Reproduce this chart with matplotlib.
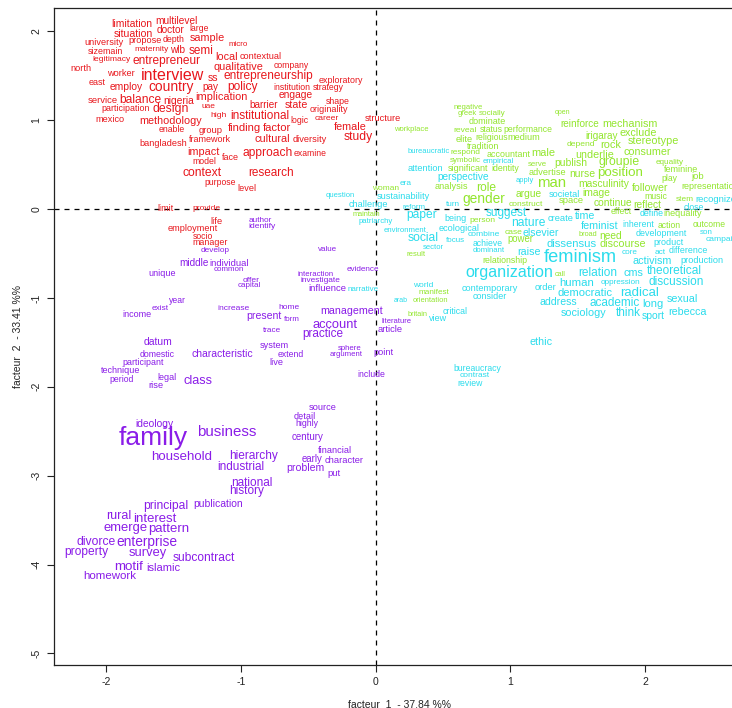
import matplotlib
matplotlib.use("Agg")
import matplotlib.pyplot as plt

plt.rcParams["font.family"] = ["Liberation Sans", "DejaVu Sans"]
plt.rcParams["axes.unicode_minus"] = False

# classe 1 (rouge)
red_words = ["limitation", "multilevel", "situation", "doctor", "large", "university", "propose", "depth",
             "sample", "micro", "sizemain", "maternity", "wlb", "semi", "local", "contextual", "legitimacy",
             "entrepreneur", "qualitative", "company", "north", "worker", "interview", "ss",
             "entrepreneurship", "exploratory", "east", "employ", "country", "pay", "policy", "institution",
             "strategy", "engage", "service", "balance", "nigeria", "implication", "barrier", "state",
             "shape", "participation", "design", "uae", "originality", "mexico", "methodology", "high",
             "institutional", "logic", "career", "structure", "enable", "group", "finding", "factor",
             "female", "framework", "bangladesh", "cultural", "diversity", "study", "impact", "face",
             "approach", "examine", "model", "context", "research", "purpose", "level", "limit", "provide",
             "life", "employment", "socio", "manager"]
red_x = [-1.811, -1.477, -1.800, -1.522, -1.310, -2.019, -1.711, -1.500, -1.251, -1.017, -2.008, -1.663,
         -1.474, -1.299, -1.106, -0.854, -1.960, -1.552, -1.021, -0.627, -2.186, -1.893, -1.511, -1.210,
         -0.794, -0.260, -2.068, -1.852, -1.518, -1.225, -0.987, -0.620, -0.353, -0.594, -2.027, -1.745,
         -1.466, -1.143, -0.828, -0.590, -0.282, -1.856, -1.522, -1.240, -0.349, -1.971, -1.522, -1.169,
         -0.857, -0.564, -0.364, 0.052, -1.514, -1.225, -0.976, -0.735, -0.193, -1.232, -1.578, -0.768,
         -0.490, -0.130, -1.277, -1.080, -0.802, -0.486, -1.269, -1.288, -0.780, -1.154, -0.954, -1.559,
         -1.255, -1.180, -1.359, -1.284, -1.229]
red_y = [2.078, 2.115, 1.969, 2.014, 2.025, 1.871, 1.893, 1.912, 1.924, 1.845, 1.777, 1.789, 1.789, 1.777,
         1.713, 1.713, 1.687, 1.665, 1.601, 1.612, 1.575, 1.519, 1.507, 1.474, 1.496, 1.443, 1.421, 1.376,
         1.376, 1.376, 1.376, 1.365, 1.365, 1.282, 1.215, 1.226, 1.215, 1.264, 1.170, 1.170, 1.207, 1.125,
         1.125, 1.151, 1.114, 1.001, 0.993, 1.057, 1.050, 0.990, 1.020, 1.020, 0.889, 0.881, 0.915, 0.915,
         0.926, 0.784, 0.731, 0.787, 0.787, 0.813, 0.638, 0.582, 0.627, 0.627, 0.532, 0.402, 0.402, 0.299,
         0.233, 0.011, 0.000, -0.143, -0.225, -0.304, -0.379]
red_cex = [1.04, 1.01, 1.05, 1.01, 0.86, 0.92, 0.91, 0.88, 1.09, 0.80, 0.89, 0.83, 1.00, 1.18, 1.07, 0.92,
           0.85, 1.19, 1.09, 0.86, 0.92, 0.93, 1.60, 1.05, 1.19, 0.89, 0.90, 1.02, 1.37, 1.00, 1.20, 0.88,
           0.87, 1.02, 0.95, 1.20, 1.03, 1.10, 1.00, 1.06, 0.88, 0.89, 1.22, 0.84, 0.90, 0.92, 1.08, 0.85,
           1.18, 0.88, 0.85, 0.93, 0.87, 0.94, 1.12, 1.12, 1.07, 0.90, 0.91, 1.09, 0.93, 1.21, 1.09, 0.90,
           1.20, 0.87, 0.88, 1.21, 1.18, 0.86, 0.92, 0.90, 0.85, 0.94, 0.92, 0.86, 0.89]

# classe 2 (violet)
purple_words = ["develop", "author", "identify", "value", "middle", "individual", "common", "unique",
                "evidence", "interaction", "investigate", "offer", "capital", "influence", "year", "exist",
                "income", "increase", "home", "present", "form", "management", "account", "practice",
                "trace", "literature", "article", "datum", "system", "sphere", "argument", "point",
                "domestic", "characteristic", "extend", "live", "participant", "technique", "period",
                "legal", "rise", "class", "include", "source", "detail", "highly", "ideology", "family",
                "business", "century", "household", "hierarchy", "financial", "early", "character",
                "industrial", "problem", "put", "national", "history", "principal", "publication", "rural",
                "interest", "emerge", "pattern", "divorce", "enterprise", "property", "survey",
                "subcontract", "motif", "islamic", "homework"]
purple_x = [-1.192, -0.857, -0.846, -0.360, -1.351, -1.088, -1.091, -1.585, -0.093, -0.449, -0.412, -0.924,
            -0.939, -0.356, -1.474, -1.600, -1.771, -1.054, -0.642, -0.828, -0.624, -0.178, -0.301, -0.390,
            -0.772, 0.156, 0.108, -1.615, -0.754, -0.193, -0.219, 0.059, -1.622, -1.140, -0.631, -0.735,
            -1.726, -1.897, -1.886, -1.548, -1.630, -1.318, -0.030, -0.393, -0.527, -0.509, -1.641, -1.652,
            -1.102, -0.505, -1.437, -0.909, -0.304, -0.471, -0.234, -0.999, -0.520, -0.308, -0.917, -0.961,
            -1.555, -1.169, -1.904, -1.637, -1.856, -1.533, -2.075, -1.696, -2.145, -1.693, -1.277, -1.837,
            -1.574, -1.971]
purple_y = [-0.469, -0.124, -0.199, -0.461, -0.611, -0.611, -0.686, -0.731, -0.686, -0.742, -0.810, -0.799,
            -0.866, -0.900, -1.024, -1.117, -1.192, -1.117, -1.110, -1.204, -1.241, -1.144, -1.305, -1.406,
            -1.372, -1.271, -1.361, -1.500, -1.541, -1.567, -1.642, -1.612, -1.634, -1.634, -1.642, -1.729,
            -1.729, -1.819, -1.916, -1.898, -1.991, -1.935, -1.860, -2.231, -2.329, -2.411, -2.422, -2.579,
            -2.512, -2.568, -2.793, -2.779, -2.722, -2.812, -2.831, -2.906, -2.910, -2.981, -3.079, -3.172,
            -3.341, -3.319, -3.454, -3.491, -3.585, -3.603, -3.743, -3.743, -3.862, -3.866, -3.923, -4.024,
            -4.035, -4.128]
purple_cex = [0.83, 0.81, 0.85, 0.80, 1.00, 0.94, 0.80, 0.90, 0.82, 0.78, 0.83, 0.85, 0.80, 0.95, 0.87,
              0.83, 0.90, 0.85, 0.84, 1.05, 0.80, 1.06, 1.29, 1.17, 0.81, 0.77, 0.94, 1.04, 0.92, 0.78,
              0.78, 0.92, 0.88, 1.04, 0.87, 0.93, 0.89, 0.90, 0.86, 0.90, 0.93, 1.27, 0.88, 0.93, 0.92,
              0.88, 1.02, 2.64, 1.50, 0.98, 1.32, 1.19, 0.93, 0.97, 0.94, 1.18, 1.05, 0.94, 1.17, 1.19,
              1.21, 1.04, 1.25, 1.31, 1.30, 1.32, 1.21, 1.37, 1.20, 1.29, 1.20, 1.34, 1.11, 1.15]

# classe 3 (vert)
green_words = ["negative", "greek", "socially", "dominate", "workplace", "reveal", "status", "performance",
               "elite", "religious", "medium", "tradition", "respond", "accountant", "male", "symbolic",
               "serve", "significant", "identity", "advertise", "woman", "analysis", "role", "man", "argue",
               "gender", "construct", "maintain", "person", "case", "power", "result", "relationship",
               "manifest", "orientation", "britain", "open", "reinforce", "mechanism", "irigaray", "exclude",
               "depend", "rock", "stereotype", "underlie", "consumer", "equality", "publish", "groupie",
               "feminine", "nurse", "position", "play", "job", "masculinity", "follower", "representation",
               "image", "music", "stem", "space", "continue", "reflect", "effect", "inequality", "action",
               "outcome", "broad", "need", "discourse", "call"]
green_x = [0.687, 0.679, 0.865, 0.828, 0.267, 0.664, 0.857, 1.128, 0.657, 0.861, 1.102, 0.794, 0.668, 0.984,
           1.247, 0.664, 1.203, 0.683, 0.965, 1.273, 0.071, 0.561, 0.817, 1.303, 1.136, 0.805, 1.114, -0.067,
           0.794, 1.024, 1.076, 0.301, 0.961, 0.434, 0.405, 0.312, 1.385, 1.518, 1.889, 1.674, 1.949, 1.526,
           1.741, 2.060, 1.626, 2.016, 2.183, 1.451, 1.808, 2.264, 1.537, 1.811, 2.179, 2.387, 1.696, 2.034,
           2.480, 1.641, 2.082, 2.294, 1.451, 1.763, 2.019, 1.823, 2.279, 2.179, 2.476, 1.578, 1.741, 1.837,
           1.366]
green_y = [1.140, 1.069, 1.069, 0.982, 0.889, 0.881, 0.889, 0.889, 0.787, 0.802, 0.802, 0.701, 0.638, 0.615,
           0.634, 0.540, 0.498, 0.450, 0.450, 0.411, 0.233, 0.251, 0.240, 0.289, 0.169, 0.112, 0.053, -0.061,
           -0.124, -0.270, -0.341, -0.517, -0.574, -0.937, -1.024, -1.192, 1.088, 0.953, 0.953, 0.825, 0.852,
           0.728, 0.720, 0.768, 0.607, 0.638, 0.525, 0.514, 0.525, 0.439, 0.394, 0.402, 0.345, 0.363, 0.278,
           0.240, 0.253, 0.177, 0.138, 0.109, 0.093, 0.064, 0.045, -0.030, -0.048, -0.191, -0.172, -0.292,
           -0.300, -0.394, -0.737]
green_cex = [0.77, 0.76, 0.82, 0.90, 0.76, 0.85, 0.86, 0.86, 0.93, 0.86, 0.93, 0.90, 0.83, 0.89, 1.10, 0.80,
             0.78, 0.90, 0.88, 0.91, 0.84, 0.91, 1.20, 1.50, 1.02, 1.38, 0.84, 0.74, 0.85, 0.85, 0.96, 0.78,
             0.88, 0.82, 0.75, 0.74, 0.70, 1.00, 1.08, 1.00, 1.07, 0.85, 1.10, 1.09, 1.07, 1.07, 0.81, 1.04,
             1.23, 0.90, 1.04, 1.34, 0.86, 0.95, 1.03, 1.05, 0.90, 1.03, 0.88, 0.83, 0.94, 1.03, 1.03, 0.86,
             0.90, 0.86, 0.86, 0.74, 1.03, 1.07, 0.73]

# classe 4 (cyan)
cyan_words = ["narrative", "bureaucratic", "empirical", "attention", "perspective", "apply", "era",
              "sustainability", "question", "challenge", "turn", "reform", "suggest", "patriarchy", "paper",
              "being", "environment", "ecological", "nature", "elsevier", "social", "focus", "combine",
              "achieve", "sector", "dominant", "raise", "organization", "world", "contemporary", "order",
              "consider", "arab", "view", "critical", "ethic", "bureaucracy", "contrast", "review",
              "societal", "recognize", "close", "define", "create", "time", "feminist", "inherent",
              "development", "son", "campaign", "dissensus", "product", "feminism", "core", "act",
              "difference", "activism", "production", "relation", "cms", "theoretical", "human",
              "oppression", "discussion", "democratic", "radical", "address", "academic", "long", "sexual",
              "sociology", "think", "sport", "rebecca"]
cyan_x = [-0.093, 0.393, 0.909, 0.367, 0.650, 1.106, 0.223, 0.204, -0.264, -0.056, 0.572, 0.282, 0.969,
          0.000, 0.338, 0.594, 0.219, 0.620, 1.136, 1.225, 0.353, 0.590, 0.802, 0.831, 0.427, 0.839, 1.140,
          0.995, 0.356, 0.850, 1.258, 0.846, 0.186, 0.460, 0.590, 1.225, 0.757, 0.735, 0.702, 1.399, 2.524,
          2.361, 2.049, 1.373, 1.552, 1.659, 1.949, 2.120, 2.454, 2.587, 1.451, 2.175, 1.518, 1.886, 2.112,
          2.320, 2.053, 2.424, 1.652, 1.915, 2.216, 1.488, 1.819, 2.231, 1.555, 1.956, 1.359, 1.774, 2.060,
          2.275, 1.544, 1.874, 2.060, 2.316]
cyan_y = [-0.911, 0.652, 0.532, 0.450, 0.357, 0.326, 0.289, 0.138, 0.152, 0.051, 0.045, 0.022, -0.042,
          -0.146, -0.067, -0.105, -0.244, -0.217, -0.154, -0.270, -0.330, -0.349, -0.292, -0.386, -0.435,
          -0.469, -0.487, -0.711, -0.863, -0.892, -0.884, -0.987, -1.024, -1.230, -1.155, -1.498, -1.792,
          -1.875, -1.961, 0.165, 0.112, 0.019, -0.048, -0.105, -0.075, -0.188, -0.169, -0.281, -0.262,
          -0.341, -0.394, -0.375, -0.548, -0.487, -0.487, -0.469, -0.585, -0.574, -0.723, -0.723, -0.694,
          -0.829, -0.825, -0.818, -0.942, -0.942, -1.046, -1.054, -1.072, -1.016, -1.173, -1.173, -1.204,
          -1.155]
cyan_cex = [0.80, 0.76, 0.78, 0.91, 1.01, 0.75, 0.83, 0.91, 0.77, 0.91, 0.81, 0.80, 1.17, 0.78, 1.20, 0.90,
            0.78, 0.92, 1.20, 1.05, 1.21, 0.80, 0.85, 0.87, 0.77, 0.78, 1.06, 1.61, 0.84, 0.91, 0.94, 0.90,
            0.70, 0.90, 0.88, 1.07, 0.87, 0.84, 0.87, 0.91, 0.95, 0.86, 0.88, 0.94, 1.06, 1.07, 0.86, 0.89,
            0.80, 0.85, 1.12, 0.90, 1.83, 0.82, 0.83, 0.89, 1.08, 0.92, 1.19, 1.09, 1.19, 1.14, 0.82, 1.19,
            1.12, 1.32, 1.05, 1.17, 1.11, 1.07, 1.08, 1.18, 1.04, 1.07]

classes = [
    (red_words, red_x, red_y, red_cex, "#E8161C"),
    (purple_words, purple_x, purple_y, purple_cex, "#8A1CE8"),
    (green_words, green_x, green_y, green_cex, "#92E62C"),
    (cyan_words, cyan_x, cyan_y, cyan_cex, "#2ADCEC"),
]

fig = plt.figure(figsize=(7.32, 7.08), dpi=100)
ax = fig.add_axes([0.0734, 0.0613, 0.9459, 0.9273])
ax.set_xlim(-2.39, 2.75)
ax.set_ylim(-5.125, 2.26)

ax.axhline(0, color="black", lw=0.9, ls=(0, (4, 4)), zorder=1)
ax.axvline(0, color="black", lw=0.9, ls=(0, (4, 4)), zorder=1)

for words, xs, ys, cexs, col in classes:
    for w, x, y, c in zip(words, xs, ys, cexs):
        ax.text(x, y, w, color=col, fontsize=7.2 * c, ha="center", va="center",
                clip_on=True, zorder=2)

ax.set_xticks([-2, -1, 0, 1, 2])
ax.set_yticks([2, 1, 0, -1, -2, -3, -4, -5])
ax.tick_params(direction="out", length=5, width=0.8, labelsize=7.5, color="#222222",
               labelcolor="#222222", pad=4)
for lab in ax.get_yticklabels():
    lab.set_rotation(90)
    lab.set_va("center")
for sp in ax.spines.values():
    sp.set_color("#222222")
    sp.set_linewidth(0.9)

ax.set_xlabel("facteur  1  - 37.84 %%", fontsize=7.5, color="#222222", labelpad=9)
ax.set_ylabel("facteur  2  - 33.41 %%", fontsize=7.5, color="#222222", labelpad=6)

fig.savefig("out.png", dpi=100)
